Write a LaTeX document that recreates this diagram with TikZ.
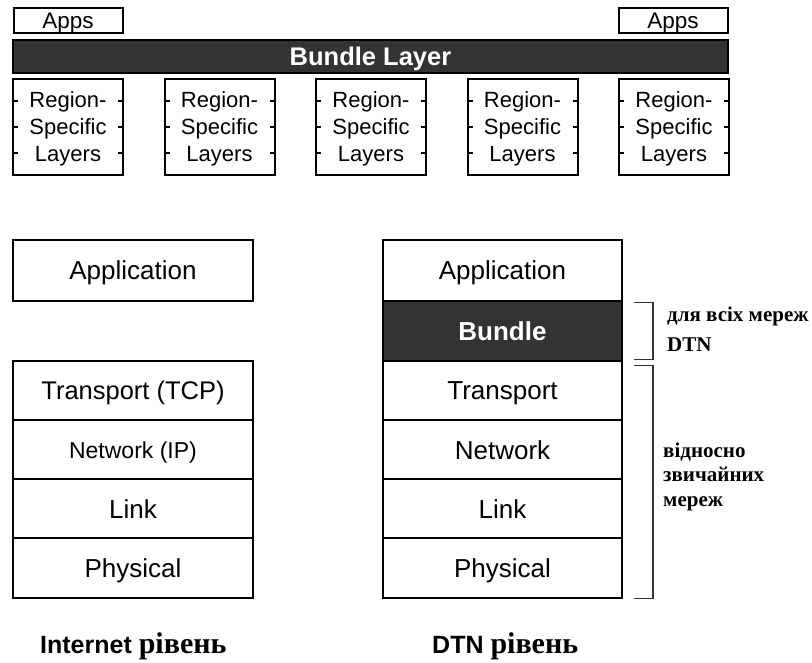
\documentclass[tikz,border=0pt]{standalone}
\usepackage{fontspec}
\setmainfont{Liberation Sans}
\newfontfamily\cyrserif{Liberation Serif}
\usetikzlibrary{calc}
\definecolor{darkfill}{HTML}{333333}
\definecolor{bracketgray}{HTML}{333333}

\begin{document}
\begin{tikzpicture}[x=1pt,y=-1pt,
  layer/.style={draw=black, line width=2pt, fill=white, inner sep=0pt,
    minimum height=59.5pt, font=\fontsize{26}{30}\selectfont,
    text height=18.6pt, text depth=0pt},
  darklayer/.style={layer, fill=darkfill, text=white,
    font=\bfseries\fontsize{26}{30}\selectfont},
  appsbox/.style={draw=black, line width=2pt, fill=white, inner sep=0pt,
    minimum width=109pt, minimum height=25pt, font=\fontsize{22.5}{26}\selectfont,
    text height=16.1pt, text depth=0pt},
  regionbox/.style={draw=black, line width=2pt, fill=white, inner sep=0pt,
    minimum width=110pt, minimum height=96pt, align=center,
    font=\fontsize{22}{27}\selectfont, text depth=0pt},
  tick/.style={line width=2pt},
  bracket/.style={draw=bracketgray, line width=1.3pt},
  note/.style={anchor=base west, inner sep=0pt,
    font=\cyrserif\bfseries\fontsize{21}{24}\selectfont},
  caption/.style={anchor=base west, inner sep=0pt,
    font=\bfseries\fontsize{25}{30}\selectfont},
  capword/.style={font=\cyrserif\bfseries\fontsize{30}{34}\selectfont}]

\useasboundingbox (0,0) rectangle (812,663);

% --- DTN overlay: applications, bundle layer, regions ---
\node[appsbox] (appsL) at (68,20.5) {Apps};
\node[appsbox] (appsR) at (673,20.5) {Apps};
\node[draw=black, line width=2pt, fill=darkfill, text=white, inner sep=0pt,
  minimum width=715pt, minimum height=33pt,
  font=\bfseries\fontsize{25.5}{30}\selectfont,
  text height=18.3pt, text depth=0pt] (bundlebar) at (370.5,56.5) {Bundle Layer};

\foreach \i/\cx in {1/68, 2/219.5, 3/371, 4/522.5, 5/674} {
  \node[regionbox] (reg\i) at (\cx,127) {Region-\\Specific\\Layers};
  \foreach \dy in {-26,0,26} {
    \draw[tick] ($(reg\i.west)+(0,\dy)$) -- ++(6,0);
    \draw[tick] ($(reg\i.east)+(0,\dy)$) -- ++(-6,0);
  }
}

% --- Internet stack ---
\node[layer, minimum width=240pt, minimum height=61pt] (iApp) at (133,270.5) {Application};
\node[layer, minimum width=240pt, font=\fontsize{25.5}{30}\selectfont] (iTrans) at (133,390.5) {Transport (TCP)};
\node[layer, minimum width=240pt, font=\fontsize{23}{26}\selectfont, text height=16.5pt] (iNet) at (133,450) {Network (IP)};
\node[layer, minimum width=240pt] (iLink) at (133,509) {Link};
\node[layer, minimum width=240pt] (iPhys) at (133,568) {Physical};

% --- DTN stack ---
\node[layer, minimum width=239pt, minimum height=61pt] (dApp) at (502.5,270.5) {Application};
\node[darklayer, minimum width=239pt] (dBundle) at (502.5,331) {Bundle};
\node[layer, minimum width=239pt] (dTrans) at (502.5,390.5) {Transport};
\node[layer, minimum width=239pt] (dNet) at (502.5,450) {Network};
\node[layer, minimum width=239pt] (dLink) at (502.5,509) {Link};
\node[layer, minimum width=239pt] (dPhys) at (502.5,568) {Physical};

% --- brackets with notes ---
\draw[bracket] ($(dBundle.north east)+(11,2)$) -- ++(19,0) |- ($(dBundle.south east)+(11,-2)$);
\draw[bracket] ($(dTrans.north east)+(11,6)$) -- ++(19,0) |- ($(dPhys.south east)+(11,0)$);

\node[note] (noteA1) at (667,322) {для всіх мереж};
\node[note] (noteA2) at (667,352) {DTN};
\node[note] (noteB1) at (663,457) {відносно};
\node[note] (noteB2) at (663,481) {звичайних};
\node[note] (noteB3) at (663,506) {мереж};

% --- captions ---
\node[caption] (capI) at (40,653) {Internet {\cyrserif\fontsize{30}{34}\selectfont рівень}};
\node[caption] (capD) at (432,653) {DTN {\cyrserif\fontsize{30}{34}\selectfont рівень}};
\end{tikzpicture}
\end{document}
